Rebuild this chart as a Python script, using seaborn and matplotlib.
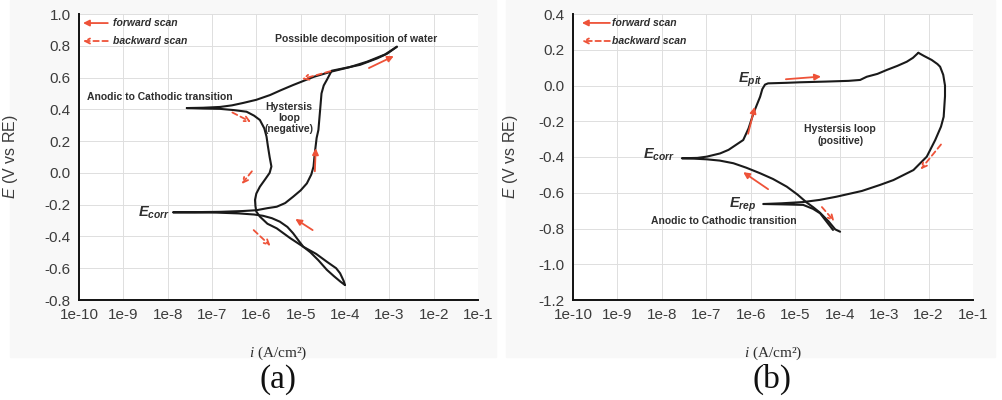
import numpy as np
import pandas as pd
import matplotlib
matplotlib.use("Agg")
import matplotlib.pyplot as plt
import seaborn as sns

# ---- data: log10(i) and E for each scan ----
# panel (a), forward scan (cathodic tip -> Ecorr -> anodic up to 0.79 V)
a_fwd_logi = [-4.00, -4.10, -4.25, -4.41, -4.60, -4.78, -4.94, -5.05, -5.17, -5.30,
              -5.47, -5.65, -5.85, -6.05, -6.40, -6.90, -7.40, -7.88,
              -7.40, -6.80, -6.30, -6.00, -5.75, -5.54, -5.35, -5.17, -5.00, -4.86,
              -4.76, -4.71, -4.69, -4.67, -4.64, -4.60, -4.56, -4.53, -4.48, -4.41,
              -4.30, -4.00, -3.66, -3.28, -3.05, -2.83]
a_fwd_E = [-0.706, -0.685, -0.650, -0.610, -0.550, -0.500, -0.465, -0.425, -0.380, -0.340,
           -0.307, -0.285, -0.270, -0.262, -0.255, -0.250, -0.249, -0.248,
           -0.247, -0.245, -0.240, -0.235, -0.222, -0.213, -0.190, -0.150, -0.110, -0.066,
           -0.010, 0.040, 0.100, 0.150, 0.220, 0.270, 0.400, 0.500, 0.550, 0.585,
           0.643, 0.660, 0.680, 0.720, 0.750, 0.794]
# panel (a), backward scan
a_bwd_logi = [-2.83, -3.10, -3.50, -3.90, -4.30, -4.70, -5.17, -5.45, -5.69, -6.00,
              -6.30, -6.55, -6.82, -7.20, -7.57,
              -7.20, -6.82, -6.50, -6.22, -6.05, -5.92, -5.82, -5.77, -5.74, -5.70,
              -5.66, -5.70, -5.80, -5.92, -6.00, -6.03, -6.02, -6.00, -5.92, -5.75,
              -5.54, -5.24, -4.94, -4.65, -4.41, -4.20, -4.11, -4.03, -4.00]
a_bwd_E = [0.794, 0.745, 0.700, 0.665, 0.638, 0.605, 0.553, 0.520, 0.490, 0.460,
           0.440, 0.425, 0.415, 0.410, 0.408,
           0.405, 0.403, 0.395, 0.385, 0.360, 0.333, 0.280, 0.228, 0.170, 0.100,
           0.040, 0.000, -0.040, -0.087, -0.130, -0.170, -0.210, -0.244, -0.275, -0.320,
           -0.349, -0.410, -0.465, -0.510, -0.559, -0.600, -0.632, -0.680, -0.706]

# panel (b), forward scan
b_fwd_logi = [-3.99, -4.10, -4.25, -4.45, -4.60, -4.74, -4.95, -5.19, -5.50, -5.79,
              -6.10, -6.39, -6.70, -6.99, -7.30, -7.55,
              -7.20, -6.99, -6.69, -6.50, -6.35, -6.17, -6.05, -5.94, -5.85, -5.79,
              -5.74, -5.68, -5.61, -5.20, -4.89, -4.30, -3.80, -3.54, -3.39, -3.15,
              -2.94, -2.70, -2.49, -2.35, -2.23]
b_fwd_E = [-0.818, -0.805, -0.760, -0.710, -0.680, -0.655, -0.610, -0.566, -0.523, -0.491,
           -0.460, -0.435, -0.420, -0.413, -0.409, -0.407,
           -0.405, -0.398, -0.380, -0.360, -0.335, -0.305, -0.240, -0.156, -0.100, -0.063,
           -0.020, 0.005, 0.012, 0.015, 0.018, 0.022, 0.026, 0.031, 0.049, 0.065,
           0.087, 0.110, 0.133, 0.155, 0.183]
# panel (b), backward scan
b_bwd_logi = [-2.23, -2.10, -1.93, -1.80, -1.74, -1.67, -1.63, -1.63, -1.66, -1.72,
              -1.85, -2.04, -2.34, -2.79, -3.09, -3.50, -4.07, -4.45, -4.82, -5.30,
              -5.72,
              -5.30, -4.82, -4.60, -4.44, -4.30, -4.15]
b_bwd_E = [0.183, 0.165, 0.143, 0.120, 0.105, 0.060, 0.000, -0.060, -0.175, -0.230,
           -0.305, -0.398, -0.473, -0.529, -0.556, -0.590, -0.622, -0.640, -0.652, -0.659,
           -0.663,
           -0.665, -0.668, -0.690, -0.715, -0.760, -0.808]

# direction arrows: (log i tail, E tail, log i head, E head)
a_fwd_arrows = [(-4.68, 0.01, -4.66, 0.155), (-4.73, -0.36, -5.12, -0.29), (-3.46, 0.66, -2.90, 0.735)]
a_bwd_arrows = [(-4.33, 0.64, -4.97, 0.59), (-6.54, 0.38, -6.12, 0.32),
                (-6.10, 0.01, -6.33, -0.07), (-6.06, -0.36, -5.68, -0.46)]
b_fwd_arrows = [(-6.06, -0.27, -5.91, -0.12), (-5.21, 0.035, -4.42, 0.05), (-5.61, -0.58, -6.17, -0.485)]
b_bwd_arrows = [(-1.72, -0.33, -2.18, -0.47), (-4.40, -0.68, -4.12, -0.76)]

xtick_exp = list(range(-10, 0))
xtick_labels = ["1e%d" % e for e in xtick_exp]
a_yticks = [-0.8, -0.6, -0.4, -0.2, 0.0, 0.2, 0.4, 0.6, 0.8, 1.0]
b_yticks = [-1.2, -1.0, -0.8, -0.6, -0.4, -0.2, 0.0, 0.2, 0.4]

sns.set_style("white")
plt.rcParams["font.family"] = ["Liberation Sans", "DejaVu Sans"]
plt.rcParams["mathtext.fontset"] = "custom"
plt.rcParams["mathtext.rm"] = "Liberation Sans"
plt.rcParams["mathtext.it"] = "Liberation Sans:italic"
plt.rcParams["mathtext.bf"] = "Liberation Sans:italic:bold"
plt.rcParams["mathtext.cal"] = "Liberation Serif:italic"

red = "#ee5238"
txt = "#2e2e2e"
tick_col = "#3c3c3c"

fig = plt.figure(figsize=(10.02, 4.0), dpi=100)
# light grey chart areas behind each panel
fig.patches.append(plt.Rectangle((0.010, 0.108), 0.485, 0.892, transform=fig.transFigure,
                                 color="#f8f8f8", zorder=-10))
fig.patches.append(plt.Rectangle((0.505, 0.108), 0.488, 0.892, transform=fig.transFigure,
                                 color="#f8f8f8", zorder=-10))
ax_a = fig.add_axes([79 / 1002, 0.25, 399 / 1002, 0.715])
ax_b = fig.add_axes([573 / 1002, 0.25, 400 / 1002, 0.715])


def draw_curve(ax, logi, E):
    df = pd.DataFrame({"i": np.power(10.0, logi), "E": E})
    sns.lineplot(data=df, x="i", y="E", sort=False, estimator=None, color="#1a1a1a",
                 lw=1.5, ax=ax)


def draw_arrows(ax, arrows, dashed):
    for x0, y0, x1, y1 in arrows:
        props = dict(arrowstyle="->" if dashed else "-|>", color=red, lw=1.3,
                     shrinkA=0, shrinkB=0, mutation_scale=9)
        if dashed:
            props["linestyle"] = (0, (3, 2))
        ax.annotate("", xy=(10 ** x1, y1), xytext=(10 ** x0, y0), arrowprops=props)


def style_axes(ax, yticks, ylim, ylab_x):
    ax.set_xscale("log")
    ax.set_xlim(1e-10, 1e-1)
    ax.set_ylim(*ylim)
    ax.set_xticks([10.0 ** e for e in xtick_exp])
    ax.set_xticklabels(xtick_labels)
    ax.xaxis.set_minor_locator(matplotlib.ticker.NullLocator())
    ax.set_yticks(yticks)
    ax.set_yticklabels(["%.1f" % v for v in yticks])
    ax.set_facecolor("white")
    ax.grid(True, color="#dedede", lw=0.7)
    for s in ["top", "right"]:
        ax.spines[s].set_visible(False)
    for s in ["left", "bottom"]:
        ax.spines[s].set_color("#111111")
        ax.spines[s].set_linewidth(1.4)
    ax.tick_params(axis="both", direction="out", length=3, width=1, color="#111111",
                   labelsize=11, labelcolor=tick_col, pad=3)
    ax.set_xlabel(r"$\mathcal{i}$ (A/cm²)", family="Liberation Serif", fontsize=11, color=txt)
    ax.xaxis.set_label_coords(0.5, -0.155)
    ax.set_ylabel(r"$E$ (V vs RE)", fontsize=11.5, color=tick_col)
    ax.yaxis.set_label_coords(ylab_x, 0.5)


def legend_arrows(ax, x_tail, x_head, x_text, y_fwd, y_bwd):
    ax.annotate("", xy=(10 ** x_head, y_fwd), xytext=(10 ** x_tail, y_fwd),
                arrowprops=dict(arrowstyle="-|>", color=red, lw=1.3, shrinkA=0, shrinkB=0,
                                mutation_scale=9))
    ax.annotate("", xy=(10 ** x_head, y_bwd), xytext=(10 ** x_tail, y_bwd),
                arrowprops=dict(arrowstyle="->", color=red, lw=1.3, shrinkA=0, shrinkB=0,
                                mutation_scale=9, linestyle=(0, (3, 2))))
    ax.text(10 ** x_text, y_fwd, "forward scan", fontsize=7.5, style="italic",
            weight="bold", color=txt, va="center")
    ax.text(10 ** x_text, y_bwd, "backward scan", fontsize=7.5, style="italic",
            weight="bold", color=txt, va="center")


# ---- panel (a) ----
draw_curve(ax_a, a_fwd_logi, a_fwd_E)
draw_curve(ax_a, a_bwd_logi, a_bwd_E)
draw_arrows(ax_a, a_fwd_arrows, False)
draw_arrows(ax_a, a_bwd_arrows, True)
style_axes(ax_a, a_yticks, (-0.8, 1.0), -0.148)
legend_arrows(ax_a, -9.35, -9.91, -9.23, 0.943, 0.830)
ax_a.text(10 ** -3.75, 0.84, "Possible decomposition of water", fontsize=7.5, weight="bold",
          color=txt, ha="center", va="center")
ax_a.text(10 ** -8.18, 0.478, "Anodic to Cathodic transition", fontsize=7.5, weight="bold",
          color=txt, ha="center", va="center")
ax_a.text(10 ** -5.26, 0.345, "Hystersis\nloop\n(negative)", fontsize=7.5, weight="bold",
          color=txt, ha="center", va="center", linespacing=1.15)
ax_a.text(10 ** -7.95, -0.25, r"$\mathbf{E_{corr}}$", fontsize=10.5, color=txt,
          ha="right", va="center")

# ---- panel (b) ----
draw_curve(ax_b, b_fwd_logi, b_fwd_E)
draw_curve(ax_b, b_bwd_logi, b_bwd_E)
draw_arrows(ax_b, b_fwd_arrows, False)
draw_arrows(ax_b, b_bwd_arrows, True)
style_axes(ax_b, b_yticks, (-1.2, 0.4), -0.1325)
legend_arrows(ax_b, -9.17, -9.80, -9.13, 0.350, 0.249)
ax_b.text(10 ** -5.72, 0.03, r"$\mathbf{E_{pit}}$", fontsize=10.5, color=txt,
          ha="right", va="center")
ax_b.text(10 ** -3.99, -0.277, "Hystersis loop\n(positive)", fontsize=7.5, weight="bold",
          color=txt, ha="center", va="center", linespacing=1.2)
ax_b.text(10 ** -7.70, -0.39, r"$\mathbf{E_{corr}}$", fontsize=10.5, color=txt,
          ha="right", va="center")
ax_b.text(10 ** -5.88, -0.668, r"$\mathbf{E_{rep}}$", fontsize=10.5, color=txt,
          ha="right", va="center")
ax_b.text(10 ** -6.60, -0.756, "Anodic to Cathodic transition", fontsize=7.5, weight="bold",
          color=txt, ha="center", va="center")

fig.text(278 / 1002, 0.052, "(a)", family="Liberation Serif", fontsize=24, ha="center",
         va="center", color="#111111")
fig.text(772 / 1002, 0.052, "(b)", family="Liberation Serif", fontsize=24, ha="center",
         va="center", color="#111111")

fig.savefig("out.png", dpi=100)
